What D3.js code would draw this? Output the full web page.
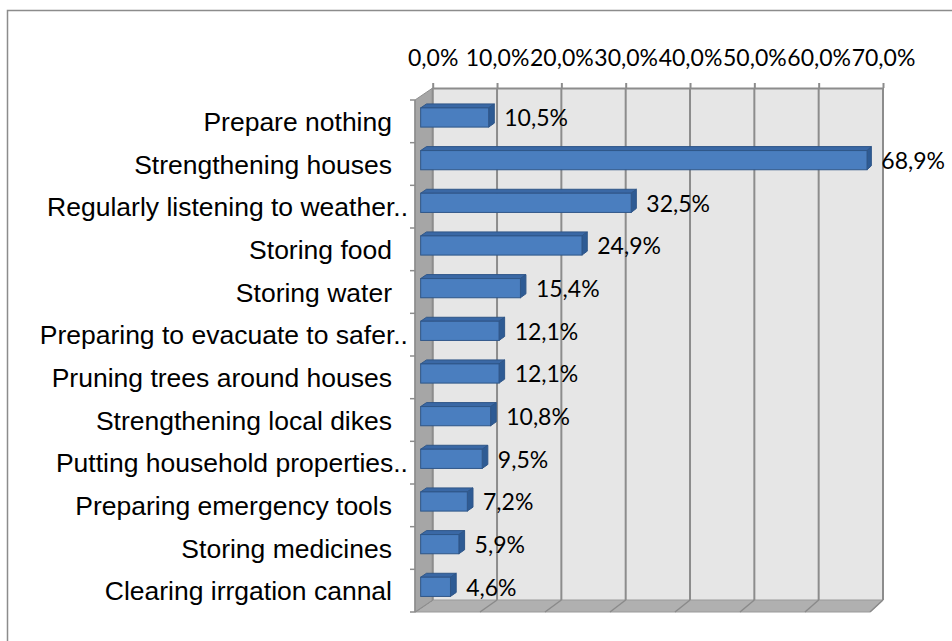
<!DOCTYPE html>
<html>
<head>
<meta charset="utf-8">
<script src="https://cdn.jsdelivr.net/npm/d3@7"></script>
<style>
  html, body { margin: 0; padding: 0; background: #fff; }
  svg { display: block; }
</style>
</head>
<body>
<svg id="chart" width="952" height="641"></svg>
<script>
// Household preparation measures (share of respondents)
const categories = [
  "Prepare nothing",
  "Strengthening houses",
  "Regularly listening to weather..",
  "Storing food",
  "Storing water",
  "Preparing to evacuate to safer..",
  "Pruning trees around houses",
  "Strengthening local dikes",
  "Putting household properties..",
  "Preparing emergency tools",
  "Storing medicines",
  "Clearing irrgation cannal"
];
const values = [0.105, 0.689, 0.325, 0.249, 0.154, 0.121, 0.121, 0.108, 0.095, 0.072, 0.059, 0.046];
const tickValues = [0, 0.1, 0.2, 0.3, 0.4, 0.5, 0.6, 0.7];

const svg = d3.select("#chart");
const locale = d3.formatLocale({ decimal: ",", thousands: ".", grouping: [3], currency: ["", "€"] });
const pct = locale.format(".1%");

// Pseudo-3D frame: front plane and back wall scales
const depthY = 12;
const xFront = d3.scaleLinear().domain([0, 0.7]).range([415, 870]);
const xBack = d3.scaleLinear().domain([0, 0.7]).range([432.7, 883]);
const px = (v, t) => xFront(v) + t * (xBack(v) - xFront(v));
const yBand = d3.scaleBand().domain(categories).range([100, 612]).padding(0);
const step = yBand.step();
const yAt = (y, t) => y - t * depthY;

// Outer chart border (runs past the right and bottom edges)
svg.append("rect")
  .attr("x", 7.5).attr("y", 10.5).attr("width", 980).attr("height", 680)
  .attr("fill", "#fff").attr("stroke", "#8c8c8c").attr("stroke-width", 1.5);

const y0 = yBand.range()[0], y1 = yBand.range()[1];

// Back wall
svg.append("rect")
  .attr("x", xBack(0)).attr("y", yAt(y0, 1))
  .attr("width", xBack(0.7) - xBack(0)).attr("height", y1 - y0)
  .attr("fill", "#e6e6e6");

// Floor
svg.append("path")
  .attr("d", d3.line()([[xFront(0), y1], [xBack(0), yAt(y1, 1)], [xBack(0.7), yAt(y1, 1)], [xFront(0.7), y1]]) + "Z")
  .attr("fill", "#b0b0b0").attr("stroke", "#9a9a9a").attr("stroke-width", 1);

// Floor grid lines
svg.append("g").selectAll("line").data(tickValues).join("line")
  .attr("x1", d => xFront(d)).attr("y1", y1)
  .attr("x2", d => xBack(d)).attr("y2", yAt(y1, 1))
  .attr("stroke", "#8a8a8a").attr("stroke-width", 1.5);

// Left side wall
svg.append("path")
  .attr("d", d3.line()([[xFront(0), y0], [xBack(0), yAt(y0, 1)], [xBack(0), yAt(y1, 1)], [xFront(0), y1]]) + "Z")
  .attr("fill", "#a6a6a6").attr("stroke", "#8f8f8f").attr("stroke-width", 1);

// Top value axis on the back wall
const axisTop = d3.axisTop(xBack)
  .tickValues(tickValues)
  .tickSize(5)
  .tickSizeOuter(0)
  .tickPadding(17)
  .tickFormat(pct);
const gx = svg.append("g")
  .attr("transform", `translate(0,${yAt(y0, 1)})`)
  .call(axisTop);
gx.select(".domain").attr("stroke", "#8c8c8c").attr("stroke-width", 2);
gx.selectAll(".tick line").attr("stroke", "#8c8c8c").attr("stroke-width", 2);
gx.selectAll(".tick text")
  .attr("font-family", "Lato, 'Open Sans', sans-serif")
  .attr("font-size", 23).attr("fill", "#000");

// Vertical grid lines on the back wall
svg.append("g").selectAll("line").data(tickValues).join("line")
  .attr("x1", d => xBack(d)).attr("x2", d => xBack(d))
  .attr("y1", yAt(y0, 1)).attr("y2", yAt(y1, 1))
  .attr("stroke", "#8c8c8c").attr("stroke-width", 2);

// Category axis line and ticks on the front edge of the side wall
svg.append("line")
  .attr("x1", xFront(0)).attr("x2", xFront(0))
  .attr("y1", y0).attr("y2", y1)
  .attr("stroke", "#8c8c8c").attr("stroke-width", 1.5);
const boundaries = categories.map(c => yBand(c)).concat([y1]);
svg.append("g").selectAll("line").data(boundaries).join("line")
  .attr("x1", xFront(0) - 5).attr("x2", xFront(0))
  .attr("y1", d => d).attr("y2", d => d)
  .attr("stroke", "#8c8c8c").attr("stroke-width", 1.5);

// Category labels
svg.append("g").selectAll("text").data(categories).join("text")
  .attr("x", d => d.endsWith("..") ? 408 : 392)
  .attr("y", d => yBand(d) + step / 2 + 9.5)
  .attr("text-anchor", "end")
  .attr("font-family", "'Liberation Sans', Arial, sans-serif")
  .attr("font-size", 26.5)
  .attr("fill", "#000")
  .text(d => d);

// 3D bars
const t0 = 0.32, t1 = 0.65, barH = 19.2;
const bars = categories.map((c, i) => {
  const top = yBand(c) + (step - barH) / 2;
  return { c, v: values[i], top, bottom: top + barH };
});
const line = d3.line();
const gb = svg.append("g");
bars.forEach(b => {
  const g = gb.append("g");
  // top face
  g.append("path")
    .attr("d", line([[px(0, t0), yAt(b.top, t0)], [px(b.v, t0), yAt(b.top, t0)], [px(b.v, t1), yAt(b.top, t1)], [px(0, t1), yAt(b.top, t1)]]) + "Z")
    .attr("fill", "#3a68a5").attr("stroke", "#2f5688").attr("stroke-width", 1);
  // end face
  g.append("path")
    .attr("d", line([[px(b.v, t0), yAt(b.top, t0)], [px(b.v, t1), yAt(b.top, t1)], [px(b.v, t1), yAt(b.bottom, t1)], [px(b.v, t0), yAt(b.bottom, t0)]]) + "Z")
    .attr("fill", "#2e5b94").attr("stroke", "#2f5688").attr("stroke-width", 1);
  // front face
  g.append("rect")
    .attr("x", px(0, t0)).attr("y", yAt(b.top, t0))
    .attr("width", px(b.v, t0) - px(0, t0)).attr("height", barH)
    .attr("fill", "#4a7ebf").attr("stroke", "#2f5688").attr("stroke-width", 1);
  // value label
  g.append("text")
    .attr("x", px(b.v, t1) + 10)
    .attr("y", yAt(b.top, t0) + barH / 2 + 9)
    .attr("font-family", "Lato, 'Open Sans', sans-serif")
    .attr("font-size", 23).attr("fill", "#000")
    .text(pct(b.v));
});
</script>
</body>
</html>
